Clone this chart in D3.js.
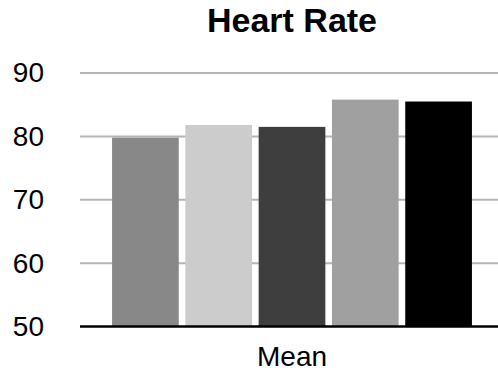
<!DOCTYPE html>
<html>
<head>
<meta charset="utf-8">
<script src="https://cdn.jsdelivr.net/npm/d3@7"></script>
<style>
  html, body { margin: 0; padding: 0; background: #fff; }
  svg { display: block; font-family: "Liberation Sans", Arial, Helvetica, sans-serif; }
</style>
</head>
<body>
<svg id="chart" width="498" height="373"></svg>
<script>
const categories = ["Mean"];
const seriesNames = ["Series 1", "Series 2", "Series 3", "Series 4", "Series 5"];
const seriesValues = [79.8, 81.8, 81.5, 85.8, 85.5];
const seriesColors = ["#878887", "#cbcccb", "#3d3e3d", "#9fa09f", "#000000"];
const yTicks = [50, 60, 70, 80, 90];
const title = "Heart Rate";

const svg = d3.select("#chart");
const margin = { left: 80, right: -6, top: 73, bottom: 46.5 };
const W = 498, H = 373;

const x0 = d3.scaleBand().domain(categories).range([margin.left, W - margin.right]).paddingInner(0).paddingOuter(0);
const x1 = d3.scaleBand().domain(seriesNames).range([0, x0.bandwidth()]).paddingInner(0.09).paddingOuter(0.4375);
const y = d3.scaleLinear().domain([50, 90]).range([H - margin.bottom, margin.top]);

// gridlines
svg.append("g").selectAll("line")
  .data(yTicks.filter(t => t !== 50))
  .join("line")
  .attr("x1", margin.left).attr("x2", W)
  .attr("y1", d => y(d)).attr("y2", d => y(d))
  .attr("stroke", "#b5b5b5").attr("stroke-width", 2);

// bars
const data = seriesNames.map((s, i) => ({ cat: categories[0], s, v: seriesValues[i], c: seriesColors[i] }));
svg.append("g").selectAll("rect")
  .data(data)
  .join("rect")
  .attr("x", d => x0(d.cat) + x1(d.s))
  .attr("width", x1.bandwidth())
  .attr("y", d => y(d.v))
  .attr("height", d => y(50) - y(d.v))
  .attr("fill", d => d.c);

// baseline axis
svg.append("line")
  .attr("x1", margin.left).attr("x2", W)
  .attr("y1", y(50)).attr("y2", y(50))
  .attr("stroke", "#000").attr("stroke-width", 2.5);

// y tick labels
const yAxis = d3.axisLeft(y).tickValues(yTicks).tickSize(0).tickPadding(0);
const gy = svg.append("g").attr("transform", `translate(44,0)`).call(yAxis);
gy.select(".domain").remove();
gy.selectAll("text").attr("font-size", 28).attr("fill", "#000")
  .attr("font-family", "'Liberation Sans', Arial, sans-serif");

// x category labels
const xAxis = d3.axisBottom(x0).tickSize(0).tickPadding(0);
const gx = svg.append("g").attr("transform", `translate(0,${y(50)})`).call(xAxis);
gx.select(".domain").remove();
gx.selectAll("text").attr("font-size", 28).attr("fill", "#000")
  .attr("dy", null).attr("y", 39.5)
  .attr("font-family", "'Liberation Sans', Arial, sans-serif");

// title
svg.append("text")
  .attr("x", x0(categories[0]) + x0.bandwidth() / 2)
  .attr("y", 32)
  .attr("text-anchor", "middle")
  .attr("font-size", 34)
  .attr("font-weight", "bold")
  .attr("fill", "#000")
  .text(title);
</script>
</body>
</html>
